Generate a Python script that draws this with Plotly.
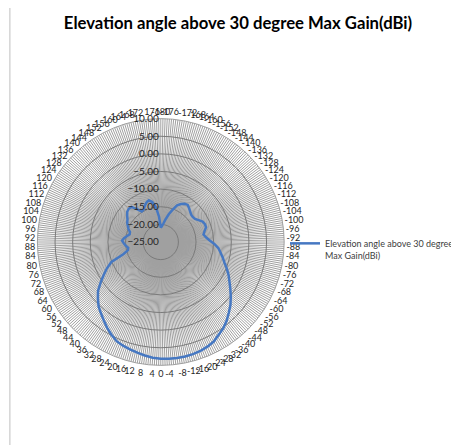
import plotly.graph_objects as go

# Category labels (degrees), one every 4 degrees, starting at the top
angle_labels = list(range(-180, 180, 4))

# Max gain (dBi) per category
gain_dbi = [
    -21.0, -20.5, -19.7, -18.4, -16.8, -15.3, -13.6, -12.8, -12.2, -12.0,   # -180 .. -144
    -12.5, -13.0, -13.4, -13.5, -13.3, -12.6, -11.8, -11.5, -11.5, -12.2,   # -140 .. -104
    -12.7, -12.1, -11.2, -9.8, -8.6, -7.8, -6.9, -6.0, -4.8, -3.6,          # -100 .. -64
    -2.5, -1.2, 0.2, 1.6, 2.8, 4.1, 5.2, 6.0, 7.0, 7.5,                     # -60 .. -24
    7.9, 8.1, 8.2, 8.2, 8.2, 8.1, 7.9, 7.5, 7.1, 6.7,                       # -20 .. 16
    6.3, 5.8, 4.8, 3.7, 2.5, 1.4, 0.4, -1.0, -2.4, -4.4,                    # 20 .. 56
    -6.3, -8.0, -9.9, -13.8, -15.4, -15.6, -15.0, -14.5, -14.0, -14.5,      # 60 .. 96
    -15.3, -15.9, -15.8, -15.1, -14.6, -14.0, -13.6, -12.9, -12.2, -11.9,   # 100 .. 136
    -12.0, -13.5, -14.8, -14.6, -13.8, -13.1, -12.7, -13.4, -15.0, -17.8,   # 140 .. 176
]

radial_ticks = [-25, -20, -15, -10, -5, 0, 5, 10]
radial_range = [-25, 10]
spoke_offsets = [0, 1, 2, 3]  # fine spokes between labelled categories

series_name = "Elevation angle above 30 degree<br>Max Gain(dBi)"
title_text = "Elevation angle above 30 degree Max Gain(dBi)"

# Angular positions: the first category sits at the top, clockwise
theta = [lbl - angle_labels[0] for lbl in angle_labels]
theta_closed = theta + [theta[0] + 360]
r_closed = gain_dbi + [gain_dbi[0]]

tickvals = []
ticktext = []
for t, lbl in zip(theta, angle_labels):
    for off in spoke_offsets:
        tickvals.append(t + off)
        ticktext.append(str(lbl) if off == 0 else "")

fig = go.Figure()
fig.add_trace(go.Scatterpolar(
    r=r_closed,
    theta=theta_closed,
    mode="lines",
    name=series_name,
    line=dict(color="#4678C2", width=2.5),
    showlegend=True,
))

# page body margin offset (browser default) compensation
OFF = 8
W, H = 459 - OFF, 445 - OFF
cx, cy, R = 169 - OFF, 242 - OFF, 130

fig.update_layout(
    width=W, height=H,
    margin=dict(l=0, r=0, t=0, b=0),
    paper_bgcolor="white",
    plot_bgcolor="white",
    font=dict(family="Lato, Liberation Sans, sans-serif", color="#404040"),
    title=dict(
        text="<b>" + title_text + "</b>",
        x=(238 - OFF) / W, xanchor="center",
        y=1 - (23 - OFF) / H, yanchor="middle",
        font=dict(family="Lato, Liberation Sans, sans-serif", size=16.7, color="#000000"),
    ),
    polar=dict(
        domain=dict(x=[(cx - R) / W, (cx + R) / W],
                    y=[(H - cy - R) / H, (H - cy + R) / H]),
        bgcolor="white",
        angularaxis=dict(
            rotation=90,
            direction="clockwise",
            tickmode="array",
            tickvals=tickvals,
            ticktext=ticktext,
            showgrid=True,
            gridcolor="#a0a0a0",
            gridwidth=1,
            showline=True,
            linecolor="#a0a0a0",
            linewidth=1,
            ticks="",
            ticklen=0,
            tickfont=dict(size=9, color="#262626"),
        ),
        radialaxis=dict(
            range=radial_range,
            tickmode="array",
            tickvals=radial_ticks,
            tickformat=".2f",
            angle=90,
            side="counterclockwise",
            showline=False,
            showgrid=True,
            gridcolor="#7a7a7a",
            gridwidth=1,
            ticks="",
            ticklen=0,
            tickangle=90,
            tickfont=dict(size=10, color="#262626"),
        ),
    ),
    legend=dict(
        x=(300 - OFF) / W, xanchor="left",
        y=1 - (231 - OFF) / H, yanchor="top",
        font=dict(size=9, color="#404040"),
        valign="top",
        bgcolor="rgba(0,0,0,0)",
        itemwidth=30,
    ),
    shapes=[dict(
        type="rect", xref="paper", yref="paper",
        x0=(10 - OFF) / W, x1=1.05, y0=-0.05, y1=1 - (5 - OFF) / H,
        line=dict(color="#bfbfbf", width=1),
        fillcolor="rgba(0,0,0,0)",
        layer="below",
    )],
)

fig.write_html("out.html")
